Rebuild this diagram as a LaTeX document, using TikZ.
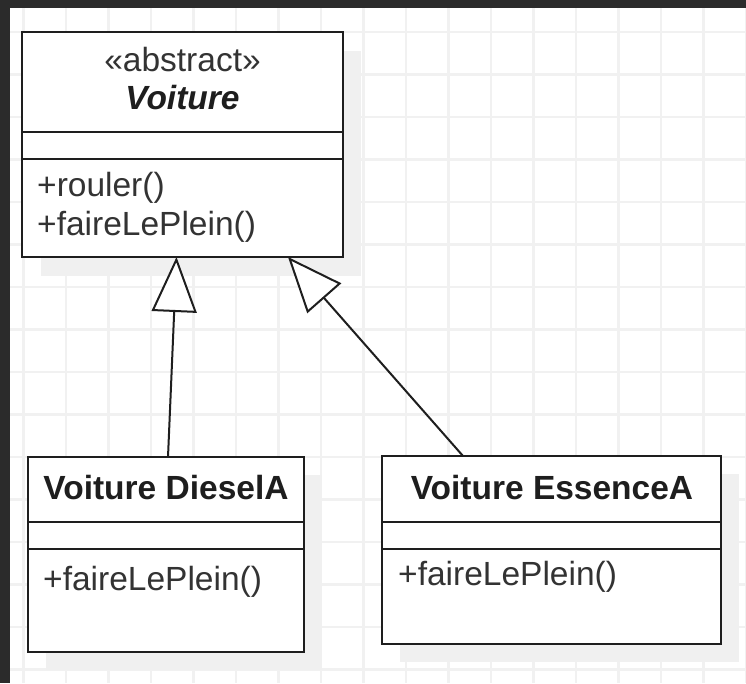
\documentclass[tikz,border=0pt]{standalone}
\usepackage{fontspec}
\setmainfont{Liberation Sans}
\usetikzlibrary{arrows.meta}
\definecolor{frame}{HTML}{2B2B2B}
\definecolor{gridline}{HTML}{F1F1F1}
\definecolor{shade}{HTML}{F0F0F0}
\definecolor{ink}{HTML}{1E1E1E}
\definecolor{soft}{HTML}{333333}
\tikzset{
  classbox/.style={draw=ink, line width=2.2pt, fill=white, rectangle,
    inner sep=0pt, outer sep=0pt},
  boxshadow/.style={fill=shade},
  sepline/.style={draw=ink, line width=2.2pt},
  member/.style={font=\fontsize{33.5}{38}\selectfont, text=soft, anchor=west, inner sep=0pt},
  title/.style={font=\fontsize{33.5}{38}\selectfont\bfseries, text=ink, inner sep=0pt},
  stereo/.style={font=\fontsize{33.5}{38}\selectfont, text=soft, inner sep=0pt},
  inherit/.style={draw=ink, line width=2pt,
    -{Triangle[open, length=55pt, width=45pt, fill=white, line width=2pt]}},
}
\begin{document}
\begin{tikzpicture}[x=1pt, y=-1pt]
  % canvas and its dark frame
  \useasboundingbox (0,0) rectangle (746,683);
  \fill[white] (0,0) rectangle (746,683);
  \begin{scope}
    \clip (10,8) rectangle (746,683);
    \foreach \k in {0,...,17} {
      \draw[gridline, line width=2.2pt] (23.5+42.5*\k,8) -- (23.5+42.5*\k,683);
      \draw[gridline, line width=2.2pt] (10,32+42.5*\k) -- (746,32+42.5*\k);
    }
  \end{scope}
  \fill[frame] (0,0) rectangle (746,8);
  \fill[frame] (0,0) rectangle (10,683);

  % drop shadows
  \fill[boxshadow] (41,51) rectangle (361,276);
  \fill[boxshadow] (46,475) rectangle (322,670);
  \fill[boxshadow] (400,474) rectangle (739,662);

  % abstract class
  \node[classbox, minimum width=321pt, minimum height=225pt] (voiture) at (182.5,144.5) {};
  \draw[sepline] (voiture.west |- 0,132) -- (voiture.east |- 0,132);
  \draw[sepline] (voiture.west |- 0,159) -- (voiture.east |- 0,159);
  \node[stereo] (stereo) at (182.5,60) {«abstract»};
  \node[title, font=\fontsize{33.5}{38}\selectfont\bfseries\itshape] (vname) at (182.5,98) {Voiture};
  \node[member] (rouler) at (37,188) {+rouler()};
  \node[member] (plein) at (37,227) {+faireLePlein()};

  % diesel subclass
  \node[classbox, minimum width=276pt, minimum height=195pt] (diesel) at (166,554.5) {};
  \draw[sepline] (diesel.west |- 0,522) -- (diesel.east |- 0,522);
  \draw[sepline] (diesel.west |- 0,549) -- (diesel.east |- 0,549);
  \node[title] (dname) at (166,488) {Voiture DieselA};
  \node[member] (dplein) at (43,582) {+faireLePlein()};

  % petrol subclass
  \node[classbox, minimum width=339pt, minimum height=188pt] (essence) at (551.5,550) {};
  \draw[sepline] (essence.west |- 0,522) -- (essence.east |- 0,522);
  \draw[sepline] (essence.west |- 0,549) -- (essence.east |- 0,549);
  \node[title] (ename) at (552,488) {Voiture EssenceA};
  \node[member] (eplein) at (398,577) {+faireLePlein()};

  % generalisation links
  \draw[inherit] ([xshift=2pt]diesel.north) -- ([xshift=-6pt]voiture.south);
  \draw[inherit] ([xshift=-88.5pt]essence.north) -- ([xshift=105.5pt]voiture.south);
\end{tikzpicture}
\end{document}
